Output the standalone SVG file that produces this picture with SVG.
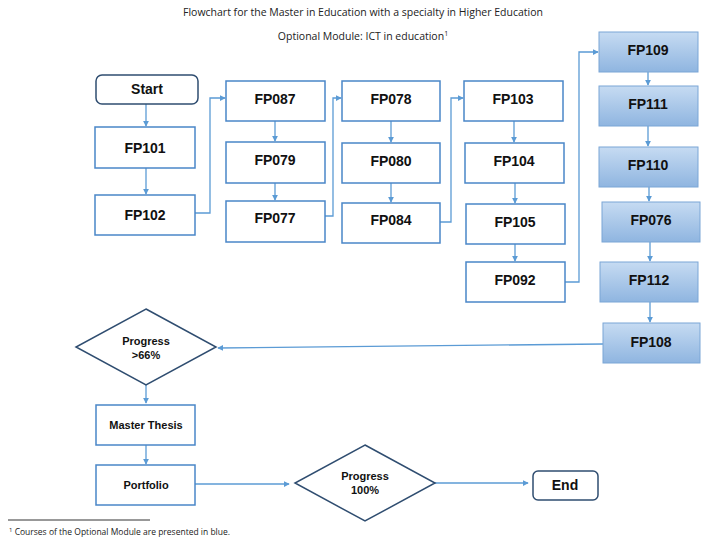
<svg xmlns="http://www.w3.org/2000/svg" width="716" height="546" viewBox="0 0 716 546">
<style>
.bg{fill:#fff}
.box{fill:#fff;stroke:#4a86c8;stroke-width:1.5}
.opt{fill:url(#g);stroke:#7ba6d6;stroke-width:1}
.term{fill:#fff;stroke:#2f4d70;stroke-width:1.5}
.dia{fill:#fff;stroke:#2f4d70;stroke-width:1.5}
.lbl{font-family:"Liberation Sans",Arial,sans-serif;font-weight:bold;font-size:14px;fill:#111;text-anchor:middle}
.sm{font-size:11px}
.cap{font-family:"Open Sans","Liberation Sans",sans-serif;font-size:10.5px;fill:#222;text-anchor:middle}
.con{fill:none;stroke:#5b9bd5;stroke-width:1.3;marker-end:url(#a)}
</style>
<defs>
<linearGradient id="g" x1="0" y1="0" x2="0" y2="1">
<stop offset="0" stop-color="#c6dbf2"/>
<stop offset="1" stop-color="#8fb5e0"/>
</linearGradient>
<marker id="a" viewBox="0 0 8 8" refX="7" refY="4" markerWidth="6" markerHeight="6" orient="auto" markerUnits="userSpaceOnUse">
<path d="M0,0 L8,4 L0,8 z" fill="#5b9bd5"/>
</marker>
</defs>
<rect class="bg" width="716" height="546"/>
<text class="cap" x="363" y="16">Flowchart for the Master in Education with a specialty in Higher Education</text>
<text class="cap" x="363" y="40">Optional Module: ICT in education<tspan font-size="7" dy="-4">1</tspan></text>

<g id="connectors">
<path class="con" d="M146,104 V126"/>
<path class="con" d="M146,168 V194"/>
<path class="con" d="M195,213 H210 V98 H225"/>
<path class="con" d="M275,121 V141"/>
<path class="con" d="M275,183 V200"/>
<path class="con" d="M325,216 H333 V98 H341"/>
<path class="con" d="M391,121 V142"/>
<path class="con" d="M391,183 V202"/>
<path class="con" d="M440,222 H451 V98 H463"/>
<path class="con" d="M514,121 V142"/>
<path class="con" d="M515,183 V203"/>
<path class="con" d="M515,244 V261"/>
<path class="con" d="M565,282 H579 V52 H598"/>
<path class="con" d="M648,72 V85"/>
<path class="con" d="M648,126 V146"/>
<path class="con" d="M649,187 V201"/>
<path class="con" d="M650,242 V261"/>
<path class="con" d="M650,302 V322"/>
<path class="con" d="M603,344 L218,348"/>
<path class="con" d="M146,385 V403"/>
<path class="con" d="M146,445 V464"/>
<path class="con" d="M195,484 H289"/>
<path class="con" d="M435,483 H528"/>
</g>

<g id="start"><rect class="term" x="96" y="75" width="102" height="29" rx="6"/><text class="lbl" x="147" y="94">Start</text></g>
<g id="fp101"><rect class="box" x="95" y="127" width="100" height="41"/><text class="lbl" x="145" y="153">FP101</text></g>
<g id="fp102"><rect class="box" x="95" y="195" width="100" height="40"/><text class="lbl" x="145" y="220">FP102</text></g>

<g id="fp087"><rect class="box" x="226" y="81" width="99" height="40"/><text class="lbl" x="275" y="104">FP087</text></g>
<g id="fp079"><rect class="box" x="226" y="142" width="99" height="41"/><text class="lbl" x="275" y="165">FP079</text></g>
<g id="fp077"><rect class="box" x="226" y="201" width="99" height="41"/><text class="lbl" x="275" y="223">FP077</text></g>

<g id="fp078"><rect class="box" x="342" y="81" width="98" height="40"/><text class="lbl" x="391" y="104">FP078</text></g>
<g id="fp080"><rect class="box" x="342" y="143" width="98" height="40"/><text class="lbl" x="391" y="166">FP080</text></g>
<g id="fp084"><rect class="box" x="342" y="203" width="98" height="40"/><text class="lbl" x="391" y="225">FP084</text></g>

<g id="fp103"><rect class="box" x="464" y="81" width="99" height="40"/><text class="lbl" x="513" y="104">FP103</text></g>
<g id="fp104"><rect class="box" x="465" y="143" width="99" height="40"/><text class="lbl" x="514" y="166">FP104</text></g>
<g id="fp105"><rect class="box" x="466" y="204" width="99" height="40"/><text class="lbl" x="515" y="227">FP105</text></g>
<g id="fp092"><rect class="box" x="466" y="262" width="99" height="40"/><text class="lbl" x="515" y="285">FP092</text></g>

<g id="fp109"><rect class="opt" x="599" y="32" width="99" height="40"/><text class="lbl" x="648" y="55">FP109</text></g>
<g id="fp111"><rect class="opt" x="599" y="86" width="99" height="40"/><text class="lbl" x="648" y="109">FP111</text></g>
<g id="fp110"><rect class="opt" x="599" y="147" width="99" height="40"/><text class="lbl" x="648" y="170">FP110</text></g>
<g id="fp076"><rect class="opt" x="602" y="202" width="98" height="40"/><text class="lbl" x="651" y="225">FP076</text></g>
<g id="fp112"><rect class="opt" x="600" y="262" width="98" height="40"/><text class="lbl" x="649" y="285">FP112</text></g>
<g id="fp108"><rect class="opt" x="603" y="323" width="97" height="40"/><text class="lbl" x="651" y="347">FP108</text></g>

<g id="progress66"><polygon class="dia" points="146,309 216,347 146,385 76,347"/><text class="lbl sm" x="146" y="345">Progress</text><text class="lbl sm" x="146" y="359">&gt;66%</text></g>
<g id="thesis"><rect class="box" x="96" y="405" width="99" height="40"/><text class="lbl sm" x="146" y="429">Master Thesis</text></g>
<g id="portfolio"><rect class="box" x="96" y="465" width="99" height="40"/><text class="lbl sm" x="146" y="489">Portfolio</text></g>
<g id="progress100"><polygon class="dia" points="365,445 435,483 365,521 295,483"/><text class="lbl sm" x="365" y="480">Progress</text><text class="lbl sm" x="365" y="494">100%</text></g>
<g id="end"><rect class="term" x="533" y="471" width="65" height="29" rx="5"/><text class="lbl" x="565" y="490">End</text></g>

<line x1="8" y1="520" x2="150" y2="520" stroke="#333" stroke-width="1"/>
<text x="9" y="535" font-family="Open Sans,Liberation Sans,sans-serif" font-size="8.5" fill="#222"><tspan font-size="6" dy="-3">1</tspan><tspan dy="3"> Courses of the Optional Module are presented in blue.</tspan></text>
</svg>
